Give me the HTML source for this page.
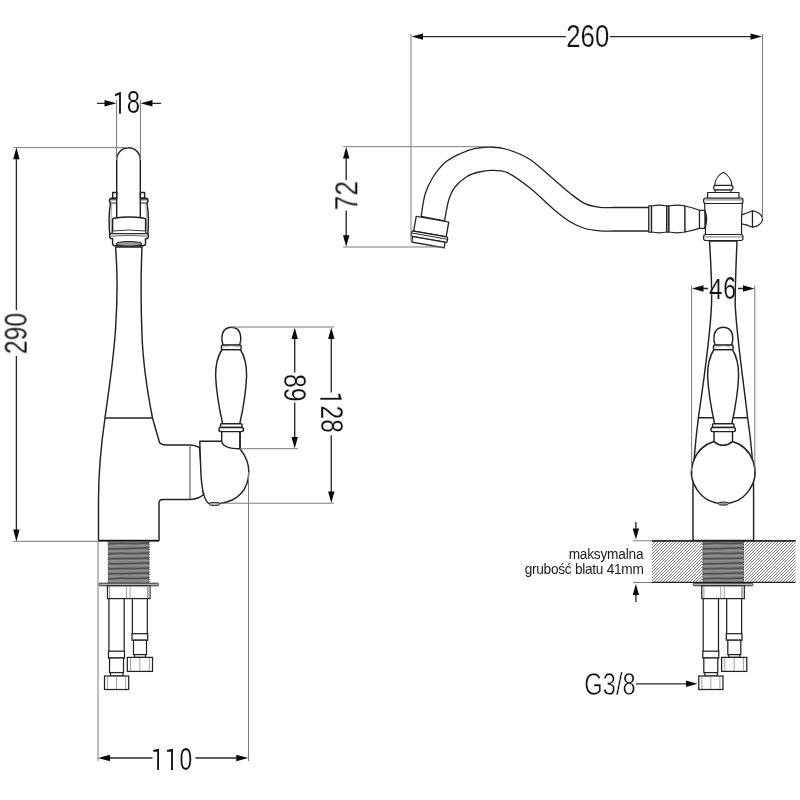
<!DOCTYPE html>
<html><head><meta charset="utf-8">
<style>
html,body{margin:0;padding:0;background:#fff;width:800px;height:800px;overflow:hidden}
svg{display:block}
text{font-family:"Liberation Sans",sans-serif;fill:#111;stroke:#fff;stroke-width:0.5px}
.txt{opacity:0.995}
text.big{stroke-width:0.6px}
</style></head>
<body>
<svg width="800" height="800" viewBox="0 0 800 800">
<defs>
  <pattern id="hatch" patternUnits="userSpaceOnUse" width="3" height="3">
    <rect width="3" height="3" fill="#fff"/>
    <path d="M-1,1 L1,-1 M0,3 L3,0 M2,4 L4,2" stroke="#808080" stroke-width="1.0"/>
  </pattern>
  <pattern id="thread" patternUnits="userSpaceOnUse" width="41" height="2.5" y="541">
    <rect width="41" height="2.5" fill="#7c7c7c"/>
    <path d="M0,1.6 C10,1.0 20,2.2 41,1.2" stroke="#4a4a4a" stroke-width="0.9" fill="none"/>
  </pattern>

  <!-- lever handle (side view, centered x=231.2) -->
  <g id="lever" fill="#fff" stroke="#222" stroke-width="1.45">
    <path d="M222,349.5 C216.5,358 215.5,366 215.6,376 C216.5,395 220,412 222.6,423.7 L239.8,423.7 C242.4,412 245.9,395 246.6,376 C246.7,366 245.7,358 240.4,349.5 Z"/>
    <path d="M223.6,345.5 C221.4,342 221.9,336.5 222.4,334 C224,329 227.5,327.3 231.3,327.3 C235.1,327.3 238.6,329 240.2,334 C240.8,336.5 241.2,342 239,345.5 Z"/>
    <rect x="221.5" y="345" width="19.6" height="4.6" rx="1"/>
    <path d="M222.5,347 Q231.3,344.5 240,347" fill="none" stroke="#888" stroke-width="0.6"/>
    <rect x="220.5" y="423.8" width="21.5" height="3.6" rx="1"/>
    <rect x="219" y="427.4" width="24.4" height="4.2" rx="1.8"/>
  </g>

  <!-- hoses + nut group (side view coords) -->
  <g id="hoses" stroke="#222" stroke-width="1.25" fill="#fff">
    <rect x="99" y="583.2" width="59.5" height="2.6" rx="1" fill="#b0b0b0" stroke="#333" stroke-width="1"/>
    <rect x="107.5" y="585.8" width="42.5" height="12.8" fill="#fff"/>
    <rect x="147" y="586.5" width="2.5" height="11.5" fill="#c8c8c8" stroke="none"/>
    <path d="M109.6,586 V598.4 M126.5,586 V598.4 M130,586 V598.4 M147.6,586 V598.4" stroke="#888" stroke-width="0.8"/>
    <!-- left hose -->
    <path d="M108.9,598.6 V651.2 M124.2,598.6 V651.2" fill="none"/>
    <rect x="108.5" y="651.2" width="16" height="6.8"/>
    <rect x="109.5" y="658" width="14" height="14.6"/>
    <rect x="110.5" y="672.6" width="12.5" height="3.4"/>
    <rect x="104.5" y="676" width="24.2" height="13.5"/>
    <path d="M107.6,676.5 V689 M116.5,676.5 V689 M125.6,676.5 V689" stroke="#8a8a8a" stroke-width="0.8"/>
    <!-- right hose -->
    <path d="M132.4,598.6 V633.7 M147.3,598.6 V633.7" fill="none"/>
    <rect x="132" y="633.7" width="15.7" height="6.5"/>
    <rect x="133.5" y="640.2" width="13" height="14.4"/>
    <rect x="134.5" y="654.6" width="11" height="2.8"/>
    <rect x="127.3" y="657.4" width="25.2" height="14"/>
    <path d="M130.5,658 V671 M139.9,658 V671 M149.3,658 V671" stroke="#8a8a8a" stroke-width="0.8"/>
  </g>
</defs>

<!-- ============ SIDE VIEW (left) ============ -->
<g stroke="#222" stroke-width="1.45" fill="#fff" stroke-linejoin="round">
  <!-- body -->
  <path d="M115.5,247 C117.5,270 117.5,300 115.5,330 C113,365 108,395 105,418 C101.5,442 98.5,470 98.5,500 L98.5,540.5 L159,540.5 L159,503 Q159,499.5 163,499.5 L190,499.5 Q199,499 203.5,494.5
           L199.5,447.5 Q195,445 190,445 L166,445 Q161,444.5 159.5,442.5 L152.5,418 C148,395 143,365 142,335 C141,310 140.5,280 142,247 Z"/>
  <path d="M105,418 H152.5" fill="none"/>
  <path d="M190,445.5 V499" fill="none" stroke="#666" stroke-width="1.2"/>
  <!-- spout tube -->
  <path d="M116.7,218 V159.5 A11.8,11.8 0 0 1 140.3,159.5 V218" />
  <!-- tabs + ring -->
  <rect x="112.7" y="192.5" width="4" height="5.8"/>
  <rect x="140.4" y="192.5" width="4.2" height="5.8"/>
  <path d="M110.5,198.3 L116.6,198.3 M140.4,198.3 L147,198.3" fill="none"/>
  <path d="M110.5,198.3 Q108.4,200.5 110.5,203 M147,198.3 Q149.1,200.5 147,203" fill="none"/>
  <path d="M110.5,203 H116.6 M140.4,203 H147 M110.5,199.8 H116.6 M140.4,199.8 H147" fill="none" stroke-width="1"/>
  <!-- side curved brackets -->
  <path d="M110.5,203 C109,212 109,228 110,237.5 M147,203 C148.5,212 148.5,228 147.5,237.5" fill="none"/>
  <path d="M112,203.5 C110.8,212 110.8,226 111.6,233 M145.5,203.5 C146.7,212 146.7,226 145.9,233" fill="none" stroke="#999" stroke-width="0.9"/>
  <!-- aerator -->
  <path d="M112.6,231 V219.5 Q112.6,218.3 114,218.2 Q129,216 144.2,218.2 Q145.6,218.3 145.6,219.5 V231" />
  <path d="M110.5,233.5 Q108.6,236 110.5,238.5 L112.6,238.6 V244 Q113,245.8 115,245.8 L142,245.8 Q145,245.8 145.5,244 V238.6 L147.5,238.5 Q149.4,236 147.5,233.5 Z"/>
  <path d="M112.6,231 Q129,229 145.6,231 L145.6,233.5 L112.6,233.5 Z" fill="#fff" stroke-width="0.9"/>
  <path d="M111,236.2 Q129,234.5 147,236.2" fill="none" stroke="#555" stroke-width="0.9"/>
  <ellipse cx="129" cy="243.8" rx="13" ry="2.3" fill="#9a9a9a" stroke-width="1"/>
  <!-- handle base -->
  <path d="M199.8,441.3 L222,441.3 L240,448.7 C245,455 249,462 248.8,472 C248.5,490 238,501 220,503.5 L209,503.5 C205,501 202,492 201,475 C200.5,462 200,450 199.8,441.3 Z"/>
  <ellipse cx="214.6" cy="504" rx="5.3" ry="1.6" fill="#bbb" stroke-width="1"/>
</g>
<!-- lever side -->
<use href="#lever"/>
<g stroke="#222" stroke-width="1.45" fill="#fff">
  <path d="M221.7,431.6 V441.6 C223,446 229,448.8 240,448.8 V431.6 Z" />
  <path d="M240,448.8 V431.6" fill="none"/>
</g>

<!-- thread side -->
<rect x="108.3" y="541.2" width="40.8" height="41.8" fill="#7e7e7e"/>
<path d="M108.3,543.80 C122.6,542.40 134.8,544.40 149.1,543.00 M108.3,548.80 C122.6,549.10 134.8,547.70 149.1,548.00 M108.3,553.80 C122.6,552.50 134.8,554.30 149.1,553.00 M108.3,558.80 C122.6,558.00 134.8,558.80 149.1,558.00 M108.3,563.80 C122.6,564.30 134.8,562.50 149.1,563.00 M108.3,568.80 C122.6,567.80 134.8,569.00 149.1,568.00 M108.3,573.80 C122.6,573.80 134.8,573.00 149.1,573.00 M108.3,578.80 C122.6,577.60 134.8,579.20 149.1,578.00" stroke="#505050" stroke-width="1.5" fill="none"/><path d="M108.3,546.20 C122.6,545.10 134.8,546.70 149.1,545.60 M108.3,551.20 C122.6,551.46 134.8,550.34 149.1,550.60 M108.3,556.20 C122.6,555.18 134.8,556.62 149.1,555.60 M108.3,561.20 C122.6,560.58 134.8,561.22 149.1,560.60 M108.3,566.20 C122.6,566.62 134.8,565.18 149.1,565.60 M108.3,571.20 C122.6,570.42 134.8,571.38 149.1,570.60 M108.3,576.20 C122.6,576.22 134.8,575.58 149.1,575.60 M108.3,581.20 C122.6,580.26 134.8,581.54 149.1,580.60" stroke="#9a9a9a" stroke-width="0.9" fill="none"/>
<path d="M108.3,541.5 V583 M149.1,541.5 V583" stroke="#333" stroke-width="1" stroke-dasharray="1.2,1.3"/>
<path d="M98.5,540.8 H159" stroke="#111" stroke-width="1.5"/>
<use href="#hoses"/>

<!-- ============ FRONT VIEW (right) ============ -->
<!-- counter -->
<rect x="652" y="541" width="143.5" height="41.5" fill="url(#hatch)"/>
<rect x="702" y="541" width="42.5" height="41.5" fill="#fff"/>
<rect x="702.8" y="541.2" width="40.8" height="41.3" fill="#7e7e7e"/>
<path d="M702.8,543.80 C717.1,542.40 729.3,544.40 743.6,543.00 M702.8,548.80 C717.1,549.10 729.3,547.70 743.6,548.00 M702.8,553.80 C717.1,552.50 729.3,554.30 743.6,553.00 M702.8,558.80 C717.1,558.00 729.3,558.80 743.6,558.00 M702.8,563.80 C717.1,564.30 729.3,562.50 743.6,563.00 M702.8,568.80 C717.1,567.80 729.3,569.00 743.6,568.00 M702.8,573.80 C717.1,573.80 729.3,573.00 743.6,573.00 M702.8,578.80 C717.1,577.60 729.3,579.20 743.6,578.00" stroke="#505050" stroke-width="1.5" fill="none"/><path d="M702.8,546.20 C717.1,545.10 729.3,546.70 743.6,545.60 M702.8,551.20 C717.1,551.46 729.3,550.34 743.6,550.60 M702.8,556.20 C717.1,555.18 729.3,556.62 743.6,555.60 M702.8,561.20 C717.1,560.58 729.3,561.22 743.6,560.60 M702.8,566.20 C717.1,566.62 729.3,565.18 743.6,565.60 M702.8,571.20 C717.1,570.42 729.3,571.38 743.6,570.60 M702.8,576.20 C717.1,576.22 729.3,575.58 743.6,575.60 M702.8,581.20 C717.1,580.26 729.3,581.54 743.6,580.60" stroke="#9a9a9a" stroke-width="0.9" fill="none"/>
<path d="M702.8,541.5 V582.5 M743.6,541.5 V582.5" stroke="#333" stroke-width="1" stroke-dasharray="1.2,1.3"/>
<path d="M652,540.9 H795.5 M652,582.4 H795.5" stroke="#1c1c1c" stroke-width="1.2"/>
<use href="#hoses" transform="translate(594.3,0)"/>

<g stroke="#222" stroke-width="1.45" fill="#fff" stroke-linejoin="round">
  <!-- stem/body -->
  <path d="M709.5,241 C711,265 712,290 711.5,305 C710,340 703,385 698.5,417 C695.5,440 693,465 693,490 L693,540.5 L753.6,540.5 L753.6,490 C753.5,465 751,440 747.5,417 C744,385 737,340 735.2,305 C735,290 736,265 737,241 Z"/>
  <path d="M652,540.8 H795.5" fill="none" stroke-width="1.3"/>
  <path d="M698.4,417.8 H713.5 M733,417.8 H747.6" fill="none"/>
</g>
<use href="#lever" transform="translate(492,0)"/>
<g stroke="#222" stroke-width="1.45" fill="#fff" stroke-linejoin="round">
  <!-- big round handle base -->
  <path d="M714,441.5 A31.7,31.7 0 1 0 732.5,441.5 L732.5,431.6 L714,431.6 Z"/>
  <path d="M714,441.6 Q723,449 732.5,441.6" fill="none"/>
  <ellipse cx="723.4" cy="503.6" rx="5.3" ry="1.6" fill="#999" stroke-width="1"/>
</g>

<!-- spout front -->
<g stroke="#222" stroke-width="1.3" fill="#fff" stroke-linejoin="round">
  <path d="M421.2,216.5 C421.8,212.8 423.1,200.9 425.0,194.5 C426.9,188.1 429.2,183.2 432.5,178.0 C435.8,172.8 440.0,167.0 444.5,163.0 C449.0,159.0 454.5,156.4 459.5,154.0 C464.5,151.6 469.2,149.9 474.5,148.7 C479.8,147.5 485.5,146.9 491.0,147.0 C496.5,147.1 501.0,147.4 507.5,149.5 C514.0,151.6 522.1,154.3 530.0,159.5 C537.9,164.7 548.3,174.9 555.0,180.5 C561.7,186.1 565.0,189.3 570.0,193.2 C575.0,197.1 580.0,201.3 585.0,203.7 C590.0,206.0 595.0,206.7 600.0,207.3 C605.0,207.9 606.8,207.5 615.0,207.5 C623.2,207.5 643.3,207.5 649.0,207.5 L649,231 C643.3,231.0 623.2,231.0 615.0,231.0 C606.8,231.0 605.0,231.2 600.0,230.8 C595.0,230.4 590.0,230.0 585.0,228.5 C580.0,227.0 575.0,224.7 570.0,221.7 C565.0,218.7 561.7,216.1 555.0,210.5 C548.3,204.9 537.9,194.3 530.0,188.0 C522.1,181.7 514.0,175.6 507.5,172.7 C501.0,169.8 495.8,170.4 491.0,170.3 C486.2,170.2 483.0,171.0 479.0,172.0 C475.0,173.0 471.0,174.0 467.0,176.5 C463.0,179.0 458.0,183.2 455.0,187.0 C452.0,190.8 450.8,193.3 449.0,199.0 C447.2,204.7 445.2,217.3 444.5,221.0 Z"/>
  <!-- aerator -->
  <g transform="rotate(10 430.3 231.7)">
    <rect x="413.8" y="219" width="33" height="15"/>
    <rect x="412" y="234" width="36.6" height="5.5" rx="1.5"/>
    <path d="M412.5,236.2 H448" stroke-width="0.9"/>
    <rect x="413.8" y="239.5" width="33" height="5.6"/>
  </g>
  <!-- grip -->
  <g stroke-width="1.2">
  <path d="M648.8,205.8 H651.6 V232.2 H648.8 Z"/>
  <path d="M650.3,206.5 V231.5" stroke="#999" stroke-width="0.8"/>
  <path d="M651.6,206 Q659,204.4 666.6,206 V232 Q659,233.6 651.6,232 Z"/>
  <path d="M666.6,205.8 H669 V232.2 H666.6 Z" fill="#aaa"/>
  <path d="M669,206 Q677,204.4 685,206 V232 Q677,233.6 669,232 Z"/>
  <path d="M685,206 Q692,207.5 699.5,210.3 V228.3 Q692,230.5 685,232 Z"/>
  <!-- connector -->
  <path d="M699.5,210.3 H705 V228.3 H699.5 Z"/>
  <!-- body -->
  <path d="M704.6,203.5 L742.4,203.5 Q741,219 741.6,234.5 L705.4,234.5 Q706,219 704.6,203.5 Z"/>
  <path d="M704.8,210.3 Q708.6,219.3 704.8,228.3" fill="none"/>
  <!-- right knob -->
  <path d="M741.6,214.8 Q747.5,213.2 752.5,210.8 L752.5,227.2 Q747.5,224.8 741.6,223.8 Z"/>
  <path d="M752.5,210.8 C757.5,211.3 762.6,215 762.6,219 C762.6,223 757.5,226.8 752.5,227.2 Z"/>
  <!-- rings -->
  <rect x="703.6" y="198" width="39.4" height="5.5" rx="2.2"/>
  <path d="M704.6,199.9 H742" stroke-width="0.8" stroke="#555"/>
  <rect x="707.6" y="192.5" width="31.4" height="5.5"/>
  <rect x="703.6" y="234.5" width="39.4" height="6" rx="2.2"/>
  <path d="M704.6,236.9 H742" stroke-width="0.8" stroke="#555"/>
  <!-- finial -->
  <rect x="715.2" y="189.6" width="15.8" height="2.9"/>
  <rect x="713.6" y="185.3" width="19.4" height="4.6" rx="2.2"/>
  <path d="M714.7,185.3 C714.9,180 718.5,174.8 723.3,172.3 C728.1,174.8 731.7,180 731.9,185.3 Z"/>
  </g>
</g>

<!-- ============ EXTENSION LINES (grey) ============ -->
<g stroke="#7a7a7a" stroke-width="1" fill="none">
  <!-- 18 -->
  <path d="M116.6,100 V160 M140.4,100 V160"/>
  <!-- 290 -->
  <path d="M13.3,147.6 H128 M13.3,541.3 H99"/>
  <!-- 110 -->
  <path d="M98,541 V761 M248.5,472 V761"/>
  <!-- 89 / 128 -->
  <path d="M231,327 H334 M240,448.7 H297.6 M220,503.2 H334"/>
  <!-- 260 -->
  <path d="M411,34 V241 M762.5,34 V219"/>
  <!-- 72 -->
  <path d="M343.2,146.7 H491 M343.2,247 H444"/>
  <!-- 46 -->
  <path d="M691.6,285.5 V471 M754.8,285.5 V471"/>
  <!-- counter -->
  <path d="M633,540.8 H652 M633,582.5 H652"/>
</g>

<!-- ============ DIMENSION LINES (black) ============ -->
<g stroke="#2a2a2a" stroke-width="1.35" fill="none">
  <path d="M97,103.3 H110 M161,103.3 H147"/>
  <path d="M16.4,158 V310 M16.4,356 V530"/>
  <path d="M108,758 H152.5 M195.4,758 H238"/>
  <path d="M294.7,338 V372.5 M294.7,402.5 V438"/>
  <path d="M331.3,338 V392.5 M331.3,435.2 V492"/>
  <path d="M422,36.6 H566 M610,36.6 H751"/>
  <path d="M346.2,157 V180.2 M346.2,210.4 V236"/>
  <path d="M703,288.5 H708 M738,288.5 H743"/>
  <path d="M635.9,522 V530 M635.9,594 V602"/>
  <path d="M636,683.8 H686"/>
</g>
<g fill="#0a0a0a" stroke="none">
  <!-- 18 arrows -->
  <path d="M116.50,103.30 L104.50,100.10 L104.50,106.50 Z"/>
  <path d="M140.50,103.30 L152.50,100.10 L152.50,106.50 Z"/>
  <!-- 290 -->
  <path d="M16.40,147.60 L13.20,159.30 L19.60,159.30 Z"/>
  <path d="M16.40,541.40 L13.20,529.50 L19.60,529.50 Z"/>
  <!-- 110 -->
  <path d="M98.00,758.00 L110.00,754.80 L110.00,761.20 Z"/>
  <path d="M248.30,758.00 L236.30,754.80 L236.30,761.20 Z"/>
  <!-- 89 -->
  <path d="M294.70,327.50 L291.50,339.00 L297.90,339.00 Z"/>
  <path d="M294.70,448.50 L291.50,437.00 L297.90,437.00 Z"/>
  <!-- 128 -->
  <path d="M331.30,327.50 L328.10,339.00 L334.50,339.00 Z"/>
  <path d="M331.30,503.00 L328.10,491.50 L334.50,491.50 Z"/>
  <!-- 260 -->
  <path d="M411.50,36.60 L423.00,33.40 L423.00,39.80 Z"/>
  <path d="M762.00,36.60 L750.50,33.40 L750.50,39.80 Z"/>
  <!-- 72 -->
  <path d="M346.20,147.00 L343.00,158.50 L349.40,158.50 Z"/>
  <path d="M346.20,246.80 L343.00,235.30 L349.40,235.30 Z"/>
  <!-- 46 -->
  <path d="M692.00,288.50 L703.50,285.30 L703.50,291.70 Z"/>
  <path d="M754.50,288.50 L743.00,285.30 L743.00,291.70 Z"/>
  <!-- counter -->
  <path d="M635.90,539.60 L632.70,528.50 L639.10,528.50 Z"/>
  <path d="M635.90,584.00 L632.70,595.00 L639.10,595.00 Z"/>
  <path d="M697.50,683.80 L686.00,680.60 L686.00,687.00 Z"/>
</g>

<!-- ============ TEXT ============ -->
<g class="txt">
<text class="big" font-size="100" transform="matrix(0.25776 0.00000 0.00000 0.30932 566.21 47.19)">260</text>
<g transform="translate(120.00,92.20) rotate(0)"><path d="M0,0 V21.60" stroke="#111" stroke-width="1.85" fill="none"/><path d="M0.9,-0.1 L-5.10,1.90 L-4.90,3.70 L-0.9,2.9 Z" fill="#111" stroke="none"/></g>
<text class="big" font-size="100" transform="matrix(0.24043 0.00000 0.00000 0.30932 126.87 113.49)">8</text>
<g transform="translate(158.10,748.90) rotate(0)"><path d="M0,0 V21.00" stroke="#111" stroke-width="1.85" fill="none"/><path d="M0.9,-0.1 L-5.00,1.10 L-4.80,2.90 L-0.9,2.9 Z" fill="#111" stroke="none"/></g>
<g transform="translate(172.00,748.90) rotate(0)"><path d="M0,0 V21.00" stroke="#111" stroke-width="1.85" fill="none"/><path d="M0.9,-0.1 L-5.10,1.10 L-4.90,2.90 L-0.9,2.9 Z" fill="#111" stroke="none"/></g>
<text class="big" font-size="100" transform="matrix(0.22803 0.00000 0.00000 0.30932 179.51 769.89)">0</text>
<text class="big" font-size="100" transform="matrix(0.24206 0.00000 0.00000 0.30087 709.04 298.80)">4</text>
<text class="big" font-size="100" transform="matrix(0.22993 0.00000 0.00000 0.30508 723.33 298.69)">6</text>
<text class="big" font-size="100" transform="matrix(0.00000 -0.24699 0.30932 0.00000 26.49 354.13)">290</text>
<text class="big" font-size="100" transform="matrix(0.00000 -0.26311 0.31519 0.00000 357.00 210.34)">72</text>
<text class="big" font-size="100" transform="matrix(0.00000 0.24951 -0.31780 0.00000 283.82 373.93)">89</text>
<g transform="translate(341.50,398.75) rotate(90)"><path d="M0,0 V21.25" stroke="#111" stroke-width="1.85" fill="none"/><path d="M0.9,-0.1 L-5.10,1.40 L-4.90,3.20 L-0.9,2.9 Z" fill="#111" stroke="none"/></g>
<text class="big" font-size="100" transform="matrix(0.00000 0.24534 -0.30508 0.00000 320.71 405.52)">28</text>
<text x="0" y="0" font-size="32" text-anchor="middle" transform="translate(610,695.2) scale(0.74,1)">G3/8</text>
<g style="fill:#2a2a2a">
<text x="0" y="0" font-size="14.3" text-anchor="end" transform="translate(643.3,558.6) scale(0.955,1)" style="fill:#1a1a1a;stroke:none;letter-spacing:-0.2px">maksymalna</text>
<text x="0" y="0" font-size="14.3" text-anchor="end" transform="translate(643.6,573.8) scale(0.958,1)" style="fill:#1a1a1a;stroke:none;letter-spacing:-0.3px">grubość blatu 41mm</text>
</g>
</g>

</svg>
</body></html>
